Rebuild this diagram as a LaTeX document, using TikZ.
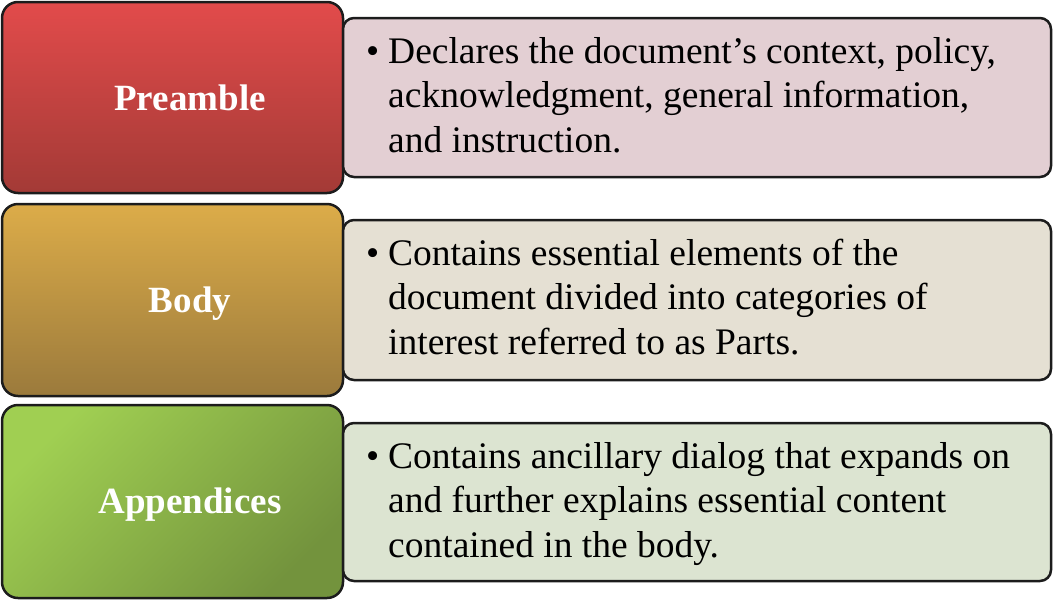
\documentclass[tikz,border=0pt]{standalone}
\usepackage{fontspec}
\setmainfont{Liberation Serif}
\definecolor{redtop}{HTML}{E24B4B}
\definecolor{redbot}{HTML}{A33A36}
\definecolor{goldtop}{HTML}{DCAC49}
\definecolor{goldbot}{HTML}{9B7A3C}
\definecolor{greentl}{HTML}{A0CF52}
\definecolor{greenbr}{HTML}{73933D}
\definecolor{pinkbox}{HTML}{E3CFD3}
\definecolor{beigebox}{HTML}{E5E0D3}
\definecolor{greenbox}{HTML}{DCE4D1}
\definecolor{edge}{HTML}{1C1C1C}
\tikzset{
  leftbox/.style={draw=edge, line width=2.5pt, rounded corners=16pt, minimum width=341pt, inner sep=0pt},
  rightbox/.style={draw=edge, line width=2.5pt, rounded corners=11pt, minimum width=708pt, inner sep=0pt},
  label/.style={text=white, font=\fontsize{37}{44}\selectfont\bfseries, anchor=base, inner sep=0pt},
  bodytext/.style={anchor=base west, inner sep=0pt, font=\fontsize{37.5}{44.5}\selectfont}
}
\newcommand{\bul}{\makebox[22pt][l]{\textbullet}}
\begin{document}
\begin{tikzpicture}[x=1pt,y=-1pt]
\useasboundingbox (0,0) rectangle (1054,600);
% left boxes
\node[leftbox, minimum height=191pt, top color=redtop, bottom color=redbot] (pre) at (172.5,97.5) {};
\node[leftbox, minimum height=192pt, top color=goldtop, bottom color=goldbot] (bod) at (172.5,300) {};
\node[leftbox, minimum height=193pt, left color=greentl, right color=greenbr, shading angle=45] (app) at (172.5,501.5) {};
\node[label] (preL) at (190,110) {Preamble};
\node[label] (bodL) at (190,312) {Body};
\node[label] (appL) at (190,513) {Appendices};
% right boxes
\node[rightbox, minimum height=159pt, fill=pinkbox] (preR) at (697,97.5) {};
\node[rightbox, minimum height=160pt, fill=beigebox] (bodR) at (697,300) {};
\node[rightbox, minimum height=158pt, fill=greenbox] (appR) at (697,502) {};
\node[bodytext] (preT) at (366,63) {\begin{tabular}[t]{@{}l@{}l@{}}
\bul & Declares the document’s context, policy,\\
 & acknowledgment, general information,\\
 & and instruction.\end{tabular}};
\node[bodytext] (bodT) at (366,265) {\begin{tabular}[t]{@{}l@{}l@{}}
\bul & Contains essential elements of the\\
 & document divided into categories of\\
 & interest referred to as Parts.\end{tabular}};
\node[bodytext] (appT) at (366,468) {\begin{tabular}[t]{@{}l@{}l@{}}
\bul & Contains ancillary dialog that expands on\\
 & and further explains essential content\\
 & contained in the body.\end{tabular}};
\end{tikzpicture}
\end{document}
